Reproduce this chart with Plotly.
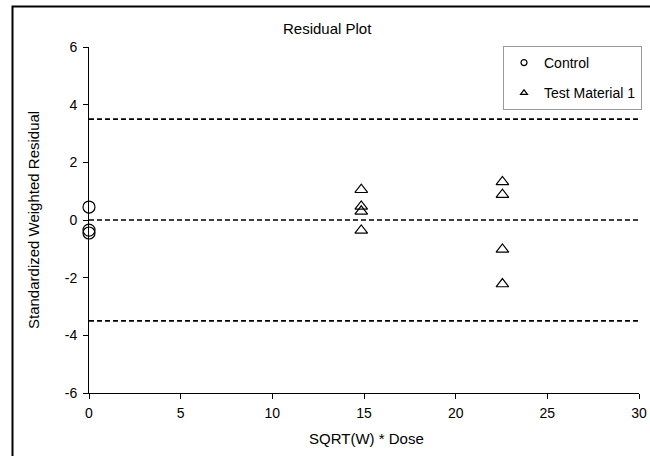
import plotly.graph_objects as go

# Data
control_x = [0, 0, 0]
control_y = [0.45, -0.35, -0.45]
test_x = [14.85, 14.85, 14.85, 14.85, 22.55, 22.55, 22.55, 22.55]
test_y = [1.05, 0.47, 0.3, -0.36, 1.32, 0.88, -1.02, -2.22]
ref_lines = [3.5, 0.0, -3.5]
x_ticks = [0, 5, 10, 15, 20, 25, 30]
y_ticks = [-6, -4, -2, 0, 2, 4, 6]
y_tick_labels = ["-6", "-4", "-2", "0", "2", "4", "6"]

W, H = 650, 456
L, R, T, B = 89, 11, 47, 63
pw, ph = W - L - R, H - T - B

def px2paper_x(p):
    return (p - L) / pw

def px2paper_y(p):
    return 1 - (p - T) / ph

FONT = "Liberation Sans, Arial, sans-serif"

fig = go.Figure()
fig.add_trace(go.Scatter(x=control_x, y=control_y, mode="markers", name="Control",
                         marker=dict(symbol="circle-open", size=12, color="black", line=dict(width=1.2)),
                         cliponaxis=False, showlegend=False))
fig.add_trace(go.Scatter(x=test_x, y=test_y, mode="markers", name="Test Material 1",
                         marker=dict(symbol="triangle-up-open", size=11, color="black", line=dict(width=1.2)),
                         cliponaxis=False, showlegend=False))
# legend entries (small markers)
fig.add_trace(go.Scatter(x=[None], y=[None], mode="markers", name="Control", legendgroup="a",
                         marker=dict(symbol="circle-open", size=6, color="black", line=dict(width=1.2))))
fig.add_trace(go.Scatter(x=[None], y=[None], mode="markers", name="Test Material 1", legendgroup="b",
                         marker=dict(symbol="triangle-up-open", size=6, color="black", line=dict(width=1.2))))

shapes = []
for v in ref_lines:
    shapes.append(dict(type="line", xref="x", yref="y", x0=0, x1=30, y0=v, y1=v,
                       line=dict(color="black", width=1.6, dash="5px,3px")))
# outer chart frame (its right and bottom sides lie outside the picture)
shapes.append(dict(type="rect", xref="paper", yref="paper",
                   x0=px2paper_x(12.5), x1=px2paper_x(W + 40),
                   y0=px2paper_y(H + 40), y1=px2paper_y(6.5),
                   line=dict(color="black", width=2), fillcolor="rgba(0,0,0,0)", layer="below"))

annotations = [
    dict(text="Residual Plot", xref="paper", yref="paper", x=px2paper_x(327), y=px2paper_y(28),
         showarrow=False, font=dict(size=15, color="black", family=FONT), xanchor="center", yanchor="middle"),
    dict(text="SQRT(W) * Dose", xref="paper", yref="paper", x=px2paper_x(366), y=px2paper_y(438),
         showarrow=False, font=dict(size=15, color="black", family=FONT), xanchor="center", yanchor="middle"),
    dict(text="Standardized Weighted Residual", xref="paper", yref="paper", x=px2paper_x(33), y=px2paper_y(220),
         showarrow=False, textangle=-90, font=dict(size=15, color="black", family=FONT),
         xanchor="center", yanchor="middle"),
]

fig.update_layout(
    width=W, height=H, autosize=False,
    margin=dict(l=L, r=R, t=T, b=B, pad=0, autoexpand=False),
    paper_bgcolor="white", plot_bgcolor="rgba(0,0,0,0)",
    font=dict(family=FONT, size=14, color="black"),
    shapes=shapes, annotations=annotations,
    legend=dict(x=px2paper_x(503), y=px2paper_y(46), xanchor="left", yanchor="top",
                bgcolor="white", bordercolor="#999999", borderwidth=1,
                font=dict(size=14, family=FONT, color="black"),
                itemwidth=30, tracegroupgap=9),
    xaxis=dict(range=[0, 30], tickvals=x_ticks, ticks="outside", ticklen=5, tickcolor="black",
               showline=True, linecolor="black", linewidth=1, showgrid=False, zeroline=False,
               automargin=False, ticklabelstandoff=2,
               tickfont=dict(size=14, color="black", family=FONT), fixedrange=True),
    yaxis=dict(range=[-6, 6], tickvals=y_ticks, ticktext=y_tick_labels, ticks="outside", ticklen=5,
               tickcolor="black",
               showline=True, linecolor="black", linewidth=1, showgrid=False, zeroline=False,
               automargin=False, ticklabelstandoff=3,
               tickfont=dict(size=14, color="black", family=FONT), fixedrange=True),
)

fig.write_html("out.html", config={"displayModeBar": False})
